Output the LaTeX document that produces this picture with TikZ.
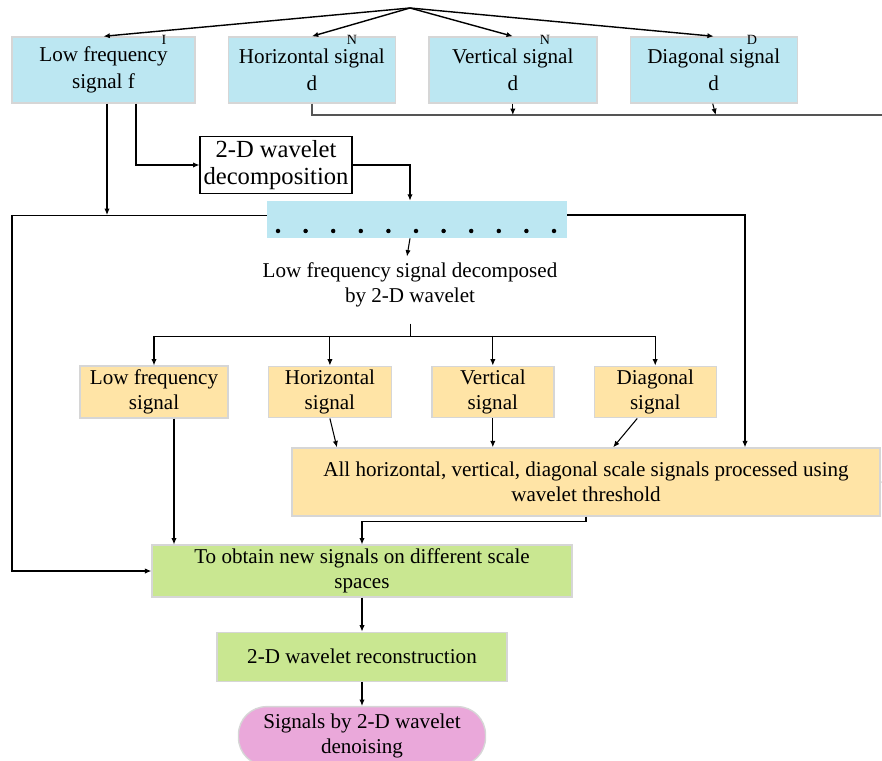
\documentclass[tikz,border=0pt]{standalone}
\usepackage{fontspec}
\setmainfont{Liberation Serif}
\usepackage{tikz}
\usepackage{xcolor}
\usetikzlibrary{arrows.meta,positioning,calc}
\definecolor{SoftBlue}{RGB}{188,231,242}
\definecolor{SoftYellow}{RGB}{255,228,166}
\definecolor{SoftGreen}{RGB}{201,231,145}
\definecolor{SoftPink}{RGB}{234,168,218}
\definecolor{EdgeGrey}{RGB}{214,214,214}
\definecolor{BusGrey}{RGB}{85,85,85}
\tikzset{
  box/.style={draw=EdgeGrey, line width=0.8pt, align=center, inner sep=2pt},
  bluebox/.style={box, fill=SoftBlue, minimum height=1.32cm, font=\fontsize{12}{15.6}\selectfont},
  yellowbox/.style={box, fill=SoftYellow, minimum height=1.0cm},
  greenbox/.style={box, fill=SoftGreen, minimum height=1.0cm},
  plainbox/.style={draw, line width=0.6pt, fill=white, align=center, inner sep=2pt, font=\fontsize{14}{15.5}\selectfont},
  supmark/.style={inner sep=0pt, font=\fontsize{8}{9}\selectfont},
  arr/.style={-{Latex[length=3.6pt,width=3pt]}, line width=0.6pt}
}

\begin{document}
\begin{tikzpicture}[node distance=0.64cm, every node/.style={font=\fontsize{12}{14.4}\selectfont}]
\useasboundingbox (0,0) rectangle (17.64,-15.22);
\clip (0,0) rectangle (17.64,-15.22);

% signals of the first level
\node[bluebox, minimum width=3.66cm] (lowf) at (2.07,-1.40) {Low frequency\\signal f};
\node[bluebox, right=of lowf, minimum width=3.34cm] (horiz) {Horizontal signal\\d};
\node[bluebox, right=of horiz, minimum width=3.36cm] (vert) {Vertical signal\\d};
\node[bluebox, right=of vert, minimum width=3.34cm] (diag) {Diagonal signal\\d};
\node[supmark] (supI) at (3.28,-0.80) {I};
\node[supmark] (supH) at (7.04,-0.80) {N};
\node[supmark] (supV) at (10.90,-0.80) {N};
\node[supmark] (supD) at (15.04,-0.80) {D};

\node[plainbox, minimum width=3.04cm, minimum height=1.0cm] (decomp) at (5.52,-3.30) {2-D wavelet\\decomposition};
\node[fill=SoftBlue, minimum width=6.0cm, minimum height=0.74cm] (dots) at (8.34,-4.39) {};
\foreach \i in {0,...,10}
  \fill (5.56+\i*0.552,-4.62) circle (0.045);
\node[align=center] (lfdec) at (8.2,-5.70) {Low frequency signal decomposed\\by 2-D wavelet};

% signals of the second level
\node[yellowbox, minimum width=2.96cm] (lowsig) at (3.08,-7.84) {Low frequency\\signal};
\node[yellowbox, right=0.78cm of lowsig, minimum width=2.46cm] (horizsig) {Horizontal\\signal};
\node[yellowbox, right=0.78cm of horizsig, minimum width=2.44cm] (vertsig) {Vertical\\signal};
\node[yellowbox, right=0.78cm of vertsig, minimum width=2.44cm] (diagsig) {Diagonal\\signal};
\node[yellowbox, minimum width=11.76cm, minimum height=1.36cm] (thresh) at (11.72,-9.64) {All horizontal, vertical, diagonal scale signals processed using\\wavelet threshold};

\node[greenbox, minimum width=8.4cm] (obtain) at (7.24,-11.42) {To obtain new signals on different scale\\spaces};
\node[greenbox, below=0.68cm of obtain, minimum width=5.8cm, minimum height=0.98cm] (recon) {2-D wavelet reconstruction};
\node[box, fill=SoftPink, rounded corners=0.56cm, below=0.48cm of recon, minimum width=4.94cm, minimum height=1.18cm] (denoise) {Signals by 2-D wavelet\\denoising};

\coordinate (top) at (8.2,-0.16);
\coordinate (rbus) at (17.9,-2.30);
\coordinate (wl) at (0.24,-4.30);
\coordinate (wr) at (14.9,-4.30);
\coordinate (ybus) at (8.0,-6.72);

\foreach \n in {lowf,horiz,vert,diag}
  \draw[arr, line width=0.8pt] (top) -- (\n.north);

\draw[arr, line width=1pt, BusGrey] (horiz.south) |- (rbus) |- (thresh.east);
\draw[arr] (vert.south) -- (vert.south |- rbus);
\draw[arr] ([xshift=-0.02cm]diag.south) -- ([xshift=0.04cm]diag.south |- rbus);

\draw[arr] ([xshift=0.07cm]lowf.south) -- ([xshift=0.07cm]lowf.south |- wl);
\draw[arr] ([xshift=0.65cm]lowf.south) |- (decomp.west);
\draw[arr] (decomp.east) -| ([xshift=-0.14cm]dots.north);
\draw (wl) -- (wl -| dots.west);
\draw[arr] (wl -| dots.east) -- (wr) -- (wr |- thresh.north);
\draw[arr] (wl) |- (obtain.west);
\draw[arr] ([xshift=-0.14cm]dots.south) -- ([xshift=-0.06cm]lfdec.north);

\draw ([yshift=-0.2cm]lfdec.south) -- (lfdec.south |- ybus);
\draw (lowsig.north |- ybus) -- (diagsig.north |- ybus);
\foreach \n in {lowsig,horizsig,vertsig,diagsig}
  \draw[arr] (\n.north |- ybus) -- (\n.north);

\draw[arr] (horizsig.south) -- ([xshift=0.14cm]horizsig.south |- thresh.north);
\draw[arr] (vertsig.south) -- (vertsig.south |- thresh.north);
\draw[arr] ([xshift=-0.36cm]diagsig.south) -- ([xshift=-0.84cm]diagsig.south |- thresh.north);

\draw[arr] ([xshift=0.4cm]lowsig.south) -- ([xshift=0.4cm]lowsig.south |- obtain.north);
\draw[arr] (thresh.south) -- ++(0,-0.1) -| (obtain.north);
\draw[arr] (obtain.south) -- (recon.north);
\draw[arr] (recon.south) -- (denoise.north);
\end{tikzpicture}
\end{document}
